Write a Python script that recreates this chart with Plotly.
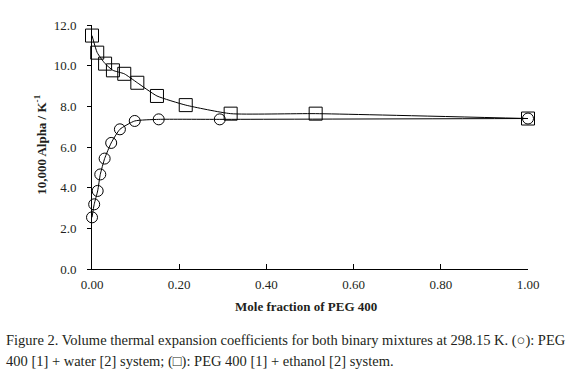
import plotly.graph_objects as go

# PEG 400 [1] + water [2]
water_x = [0.0, 0.005, 0.013, 0.019, 0.029, 0.044, 0.064, 0.098, 0.153, 0.293, 1.0]
water_y = [2.54, 3.18, 3.84, 4.65, 5.43, 6.20, 6.87, 7.28, 7.36, 7.36, 7.40]

# PEG 400 [1] + ethanol [2]
eth_x = [0.0, 0.012, 0.030, 0.048, 0.074, 0.104, 0.149, 0.215, 0.318, 0.513, 1.0]
eth_y = [11.48, 10.64, 10.10, 9.77, 9.60, 9.16, 8.51, 8.06, 7.64, 7.64, 7.40]

x_ticks = [0.0, 0.2, 0.4, 0.6, 0.8, 1.0]
x_tick_text = ["0.00", "0.20", "0.40", "0.60", "0.80", "1.00"]
y_ticks = [0, 2, 4, 6, 8, 10, 12]
y_tick_text = ["0.0", "2.0", "4.0", "6.0", "8.0", "10.0", "12.0"]

FONT = "Liberation Serif"
INK = "#231f20"

L, R, T, B = 91.5, 47.5, 24.5, 112
W, H = 576, 381
PW, PH = W - L - R, H - T - B

fig = go.Figure()
fig.add_trace(go.Scatter(
    x=water_x, y=water_y, mode="lines+markers",
    line=dict(color="black", width=1, shape="spline", smoothing=0.5),
    marker=dict(symbol="circle-open", size=11, color="black", line=dict(width=1)),
    cliponaxis=False, showlegend=False))
fig.add_trace(go.Scatter(
    x=eth_x, y=eth_y, mode="lines+markers",
    line=dict(color="black", width=1, shape="spline", smoothing=0.5),
    marker=dict(symbol="square-open", size=13, color="black", line=dict(width=1)),
    cliponaxis=False, showlegend=False))

fig.update_layout(
    width=W, height=H,
    margin=dict(l=L, r=R, t=T, b=B),
    paper_bgcolor="white", plot_bgcolor="white",
    font=dict(family=FONT, size=13, color=INK),
    xaxis=dict(range=[0, 1.0], tickvals=x_ticks, ticktext=x_tick_text,
               showline=True, linecolor="black", linewidth=1,
               ticks="inside", ticklen=5, tickcolor="black",
               ticklabelstandoff=3,
               showgrid=False, zeroline=False,
               tickfont=dict(family=FONT, size=13, color=INK)),
    yaxis=dict(range=[0, 12], tickvals=y_ticks, ticktext=y_tick_text,
               showline=True, linecolor="black", linewidth=1,
               ticks="outside", ticklen=4, tickcolor="black",
               ticklabelstandoff=8,
               showgrid=False, zeroline=False,
               tickfont=dict(family=FONT, size=13, color=INK)),
)

def px_x(px):
    return (px - L) / PW

def px_y(py):
    return (H - B - py) / PH

fig.add_annotation(text="<b>Mole fraction of PEG 400</b>", xref="paper", yref="paper",
                   x=px_x(306), y=px_y(307), xanchor="center", yanchor="middle",
                   showarrow=False, font=dict(family=FONT, size=13, color=INK))
fig.add_annotation(text="<b>10,000 Alpha / K<sup>-1</sup></b>", xref="paper", yref="paper",
                   x=px_x(40), y=px_y(145), xanchor="center", yanchor="middle",
                   textangle=-90, showarrow=False,
                   font=dict(family=FONT, size=13, color=INK))
fig.add_annotation(text="Figure 2. Volume thermal expansion coefficients for both binary mixtures at 298.15 K. (○): PEG",
                   xref="paper", yref="paper", x=px_x(3), y=px_y(341),
                   xanchor="left", yanchor="middle", showarrow=False,
                   font=dict(family=FONT, size=14.5, color=INK))
fig.add_annotation(text="400 [1] + water [2] system; (□): PEG 400 [1] + ethanol [2] system.",
                   xref="paper", yref="paper", x=px_x(3), y=px_y(362),
                   xanchor="left", yanchor="middle", showarrow=False,
                   font=dict(family=FONT, size=14.5, color=INK))

fig.write_html("out.html", config={"displayModeBar": False},
               post_script="document.body.style.margin='0';")
